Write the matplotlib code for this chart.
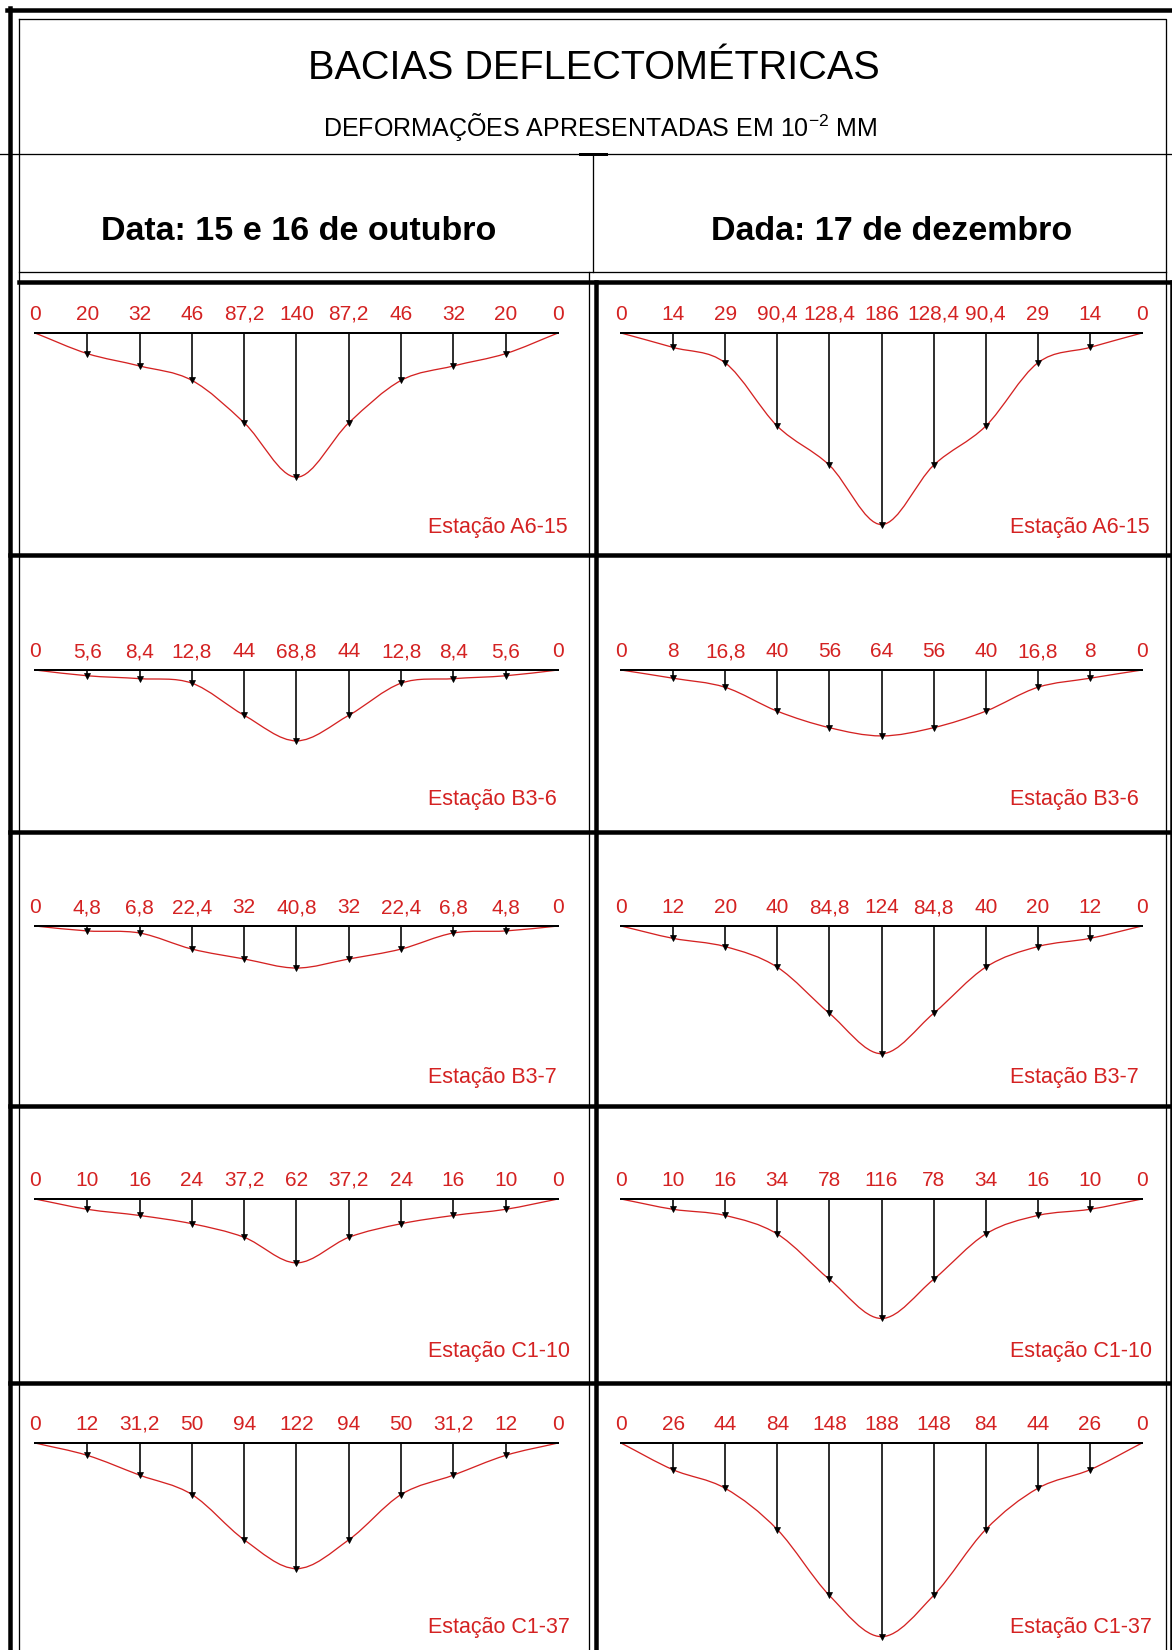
import numpy as np
import matplotlib
matplotlib.use("Agg")
import matplotlib.pyplot as plt
from matplotlib.path import Path
from matplotlib.patches import PathPatch

plt.rcParams['font.family'] = ['Liberation Sans', 'DejaVu Sans']
plt.rcParams['mathtext.fontset'] = 'custom'
plt.rcParams['mathtext.rm'] = 'Liberation Sans'

# ---------------------------------------------------------
# data (deflections in 10^-2 mm)
# ---------------------------------------------------------
title = "BACIAS DEFLECTOMÉTRICAS"
subtitle = "DEFORMAÇÕES APRESENTADAS EM 10$^{-2}$ MM"
col_titles = ["Data: 15 e 16 de outubro", "Dada: 17 de dezembro"]
stations = ["Estação A6-15", "Estação B3-6", "Estação B3-7", "Estação C1-10", "Estação C1-37"]

outubro = [
    [0, 20, 32, 46, 87.2, 140, 87.2, 46, 32, 20, 0],
    [0, 5.6, 8.4, 12.8, 44, 68.8, 44, 12.8, 8.4, 5.6, 0],
    [0, 4.8, 6.8, 22.4, 32, 40.8, 32, 22.4, 6.8, 4.8, 0],
    [0, 10, 16, 24, 37.2, 62, 37.2, 24, 16, 10, 0],
    [0, 12, 31.2, 50, 94, 122, 94, 50, 31.2, 12, 0],
]
dezembro = [
    [0, 14, 29, 90.4, 128.4, 186, 128.4, 90.4, 29, 14, 0],
    [0, 8, 16.8, 40, 56, 64, 56, 40, 16.8, 8, 0],
    [0, 12, 20, 40, 84.8, 124, 84.8, 40, 20, 12, 0],
    [0, 10, 16, 34, 78, 116, 78, 34, 16, 10, 0],
    [0, 26, 44, 84, 148, 188, 148, 84, 44, 26, 0],
]

# ---------------------------------------------------------
# layout (pixels)
# ---------------------------------------------------------
W, H = 1172, 1650
RED = '#d42222'
row_top = [282, 555, 832, 1106, 1383]
row_bot = [555, 832, 1106, 1383, 1650]
row_base = [333, 670, 926, 1199, 1443]
cells = [(19, 589), (596, 1166)]
first_last = [(35, 558), (621, 1142)]
px_per_unit = 1.03


def px(v):
    return v * 72 / 100.0


def smooth_path(vals):
    # smooth curve through the measured points (cubic segments)
    pts = np.array([[i, v] for i, v in enumerate(vals)], dtype=float)
    n = len(pts)
    ext = np.vstack([2 * pts[0] - pts[1], pts, 2 * pts[-1] - pts[-2]])
    verts = [pts[0]]
    codes = [Path.MOVETO]
    for k in range(n - 1):
        p0, p1, p2, p3 = ext[k], ext[k + 1], ext[k + 2], ext[k + 3]
        verts += [p1 + (p2 - p0) / 6, p2 - (p3 - p1) / 6, p2]
        codes += [Path.CURVE4] * 3
    return Path(verts, codes)


def fmt(v):
    return f"{v:g}".replace('.', ',')


fig = plt.figure(figsize=(W / 100, H / 100), dpi=100)
bg = fig.add_axes([0, 0, 1, 1])
bg.set_xlim(0, W)
bg.set_ylim(H, 0)
bg.axis('off')

thick = px(4.5)
thin = px(1.3)

# outer frame
bg.plot([7, W], [10, 10], color='black', lw=thick)
bg.plot([10, 10], [8, H], color='black', lw=thick)
bg.plot([19, 1166, 1166], [19, 19, H], color='black', lw=thin)
bg.plot([19, 19], [19, H], color='black', lw=thin)
bg.plot([W - 0.5, W - 0.5], [282, H], color='black', lw=thick)

# header
bg.text(594, 68, title, ha='center', va='center', fontsize=28.5)
bg.text(600, 127, subtitle, ha='center', va='center', fontsize=18)
bg.plot([0, W], [154, 154], color='black', lw=thin)
bg.plot([580, 606], [154, 154], color='black', lw=px(3))
bg.plot([593, 593], [154, 272], color='black', lw=thin)
bg.text(299, 232, col_titles[0], ha='center', va='center', fontsize=24.5, fontweight='bold')
bg.text(892, 232, col_titles[1], ha='center', va='center', fontsize=24.5, fontweight='bold')
bg.plot([19, 1166], [272, 272], color='black', lw=thin)
bg.plot([19, W], [282, 282], color='black', lw=thick)

# column separators and row lines
bg.plot([589, 589], [272, H], color='black', lw=thin)
bg.plot([596, 596], [282, H], color='black', lw=thick)
for y in row_bot[:-1]:
    bg.plot([10, W], [y, y], color='black', lw=thick)

# panels
for c, data in enumerate([outubro, dezembro]):
    cx0, cx1 = cells[c]
    first, last = first_last[c]
    unit = (last - first) / 10.0
    for r, vals in enumerate(data):
        top, bot, base = row_top[r], row_bot[r], row_base[r]
        ax = fig.add_axes([cx0 / W, 1 - (bot - 2) / H, (cx1 - cx0) / W, (bot - 2 - top - 2) / H])
        ax.axis('off')
        ax.set_xlim((cx0 - first) / unit, (cx1 - first) / unit)
        ax.set_ylim((bot - 2 - base) / px_per_unit, (top + 2 - base) / px_per_unit)

        x = np.arange(len(vals))
        ax.add_patch(PathPatch(smooth_path(vals), facecolor='none', edgecolor=RED, lw=px(1.3)))
        ax.plot([0, len(vals) - 1], [0, 0], color='black', lw=px(2))
        inner = x[1:-1]
        ax.vlines(inner, 0, np.array(vals)[1:-1], color='black', lw=px(1.6))
        ax.plot(inner, np.array(vals)[1:-1], linestyle='none', marker='v', ms=5,
                color='black', markeredgewidth=0.5)
        for i, v in enumerate(vals):
            ax.annotate(fmt(v), (i, 0), xytext=(0, 13), textcoords='offset pixels',
                        ha='center', va='baseline', color=RED, fontsize=15)

        lx = 428 if c == 0 else 1010
        bg.text(lx, top + 245, stations[r], ha='left', va='center', color=RED, fontsize=15.5)

fig.savefig("out.png", dpi=100)
plt.close(fig)
